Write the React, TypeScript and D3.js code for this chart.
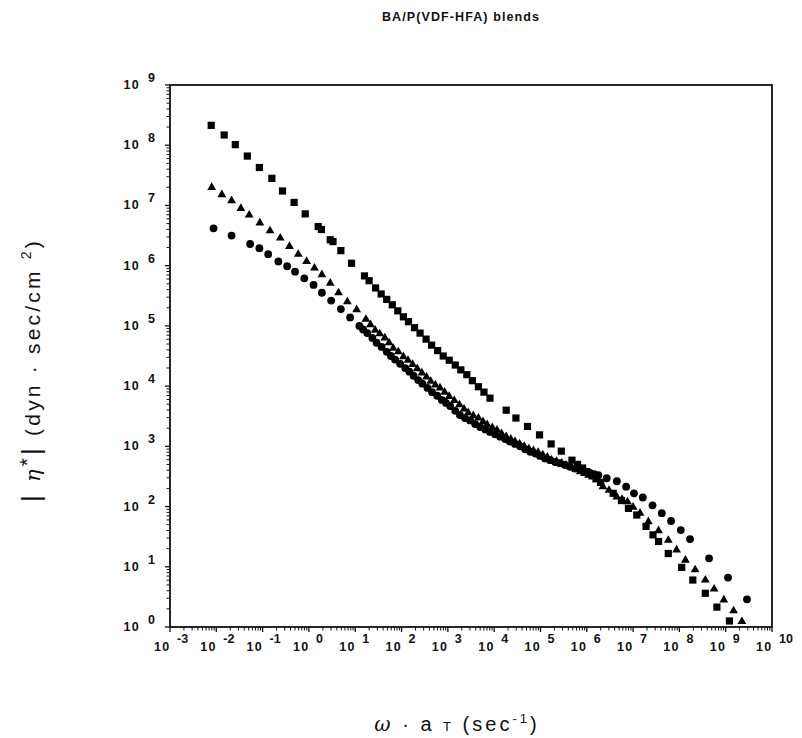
import React from 'react';
import * as d3 from 'd3';

const W = 802;
const H = 738;

const xDecades = d3.range(-3, 11);
const yDecades = d3.range(0, 10);
const xTickLabels = xDecades.map((d) => String(d));
const yTickLabels = yDecades.map((d) => String(d));

const title = 'BA/P(VDF-HFA) blends';

// log10 of omega*aT and log10 of |eta*|
const squareLogW = [-2.11, -1.83, -1.59, -1.33, -1.07, -0.8, -0.57, -0.32, -0.08, 0.2, 0.46, 0.69, 0.92, 1.2, 1.44, 1.68, 1.92, 2.15, 2.4, 2.65, 2.9, 3.16, 3.41, 3.66, 3.91, 4.26, 4.47, 4.72, 4.98, 5.23, 5.45, 5.68, 5.91, 6.11, 6.3, 6.57, 6.75, 6.9, 7.08, 7.28, 7.43, 7.55, 7.76, 8.05, 8.29, 8.56, 8.81, 9.08];
const squareLogEta = [8.33, 8.17, 8.01, 7.82, 7.63, 7.45, 7.24, 7.05, 6.86, 6.65, 6.43, 6.25, 6.04, 5.83, 5.63, 5.44, 5.25, 5.07, 4.88, 4.68, 4.5, 4.35, 4.19, 3.99, 3.8, 3.6, 3.47, 3.33, 3.19, 3.04, 2.92, 2.77, 2.64, 2.52, 2.4, 2.22, 2.1, 1.97, 1.86, 1.67, 1.53, 1.42, 1.22, 0.99, 0.78, 0.56, 0.33, 0.1];
// overlapping markers from other temperatures
const squareExtraLogW = [0.27, 0.52, 1.3, 1.56, 1.8, 2.04, 2.28, 2.53, 2.78, 3.03, 3.28, 3.53, 3.78, 5.8, 6.0, 6.2];
const squareExtraLogEta = [6.6, 6.4, 5.75, 5.53, 5.35, 5.15, 4.97, 4.78, 4.59, 4.43, 4.27, 4.09, 3.9, 2.7, 2.58, 2.46];

const triangleLogW = [-2.1, -1.88, -1.67, -1.47, -1.29, -1.06, -0.84, -0.62, -0.42, -0.23, -0.05, 0.12, 0.28, 0.46, 0.64, 0.83, 1.03, 1.23, 1.43, 1.64, 1.82, 2.04, 2.24, 2.44, 2.63, 2.83, 3.03, 3.25, 3.44, 3.66, 3.85, 4.06, 4.26, 4.45, 4.65, 4.85, 5.05, 5.24, 5.46, 5.65, 5.86, 6.04, 6.22, 6.35, 6.48, 6.65, 6.88, 7.15, 7.33, 7.55, 7.76, 7.94, 8.13, 8.34, 8.56, 8.75, 8.96, 9.17, 9.35];
const triangleLogEta = [7.3, 7.18, 7.08, 6.95, 6.84, 6.71, 6.58, 6.46, 6.32, 6.19, 6.07, 5.96, 5.85, 5.71, 5.55, 5.4, 5.27, 5.11, 4.93, 4.8, 4.63, 4.49, 4.36, 4.22, 4.08, 3.97, 3.83, 3.69, 3.56, 3.47, 3.36, 3.27, 3.16, 3.08, 3.0, 2.93, 2.86, 2.77, 2.72, 2.66, 2.58, 2.52, 2.45, 2.33, 2.27, 2.16, 2.08, 1.89, 1.75, 1.6, 1.44, 1.28, 1.11, 0.95, 0.78, 0.63, 0.45, 0.27, 0.09];
const triangleExtraLogW = [1.33, 1.53, 1.73, 1.93, 2.14, 2.34, 2.54, 2.73, 2.93, 3.14, 3.35, 3.55, 3.76, 3.96, 4.16, 4.36, 4.55, 4.75, 4.95, 5.15, 5.35, 5.55, 5.76, 5.95, 6.13, 6.76, 7.0];
const triangleExtraLogEta = [5.02, 4.87, 4.72, 4.57, 4.43, 4.29, 4.15, 4.02, 3.9, 3.76, 3.62, 3.51, 3.41, 3.31, 3.21, 3.12, 3.04, 2.96, 2.9, 2.82, 2.75, 2.69, 2.62, 2.55, 2.49, 2.12, 1.99];

const circleLogW = [-2.06, -1.67, -1.27, -1.07, -0.88, -0.66, -0.47, -0.3, -0.1, 0.1, 0.28, 0.48, 0.69, 0.89, 1.09, 1.26, 1.46, 1.68, 1.86, 2.08, 2.26, 2.45, 2.66, 2.87, 3.05, 3.26, 3.48, 3.7, 3.91, 4.13, 4.34, 4.56, 4.78, 4.99, 5.21, 5.42, 5.64, 5.86, 6.07, 6.25, 6.43, 6.65, 6.85, 7.02, 7.21, 7.42, 7.62, 7.82, 8.03, 8.23, 8.64, 9.05, 9.46];
const circleLogEta = [6.62, 6.5, 6.36, 6.29, 6.19, 6.07, 5.99, 5.9, 5.79, 5.68, 5.55, 5.42, 5.28, 5.14, 5.0, 4.88, 4.72, 4.57, 4.44, 4.3, 4.17, 4.04, 3.9, 3.77, 3.67, 3.52, 3.43, 3.32, 3.24, 3.16, 3.08, 3.0, 2.91, 2.84, 2.77, 2.72, 2.66, 2.61, 2.56, 2.52, 2.47, 2.42, 2.33, 2.22, 2.15, 2.02, 1.89, 1.76, 1.61, 1.46, 1.14, 0.82, 0.46];
const circleExtraLogW = [1.17, 1.37, 1.57, 1.77, 1.97, 2.17, 2.36, 2.56, 2.77, 2.96, 3.16, 3.37, 3.59, 3.81, 4.02, 4.24, 4.45, 4.67, 4.89, 5.1, 5.32, 5.53, 5.75, 5.97, 6.16];
const circleExtraLogEta = [4.94, 4.8, 4.65, 4.5, 4.37, 4.24, 4.1, 3.97, 3.84, 3.72, 3.59, 3.47, 3.37, 3.28, 3.2, 3.12, 3.04, 2.95, 2.88, 2.8, 2.74, 2.69, 2.63, 2.58, 2.54];

const FONT = "'Liberation Sans', Arial, Helvetica, sans-serif";

export default function App() {
  const x = d3.scaleLog().domain([1e-3, 1e10]).range([170, 772]);
  const y = d3.scaleLog().domain([1, 1e9]).range([627, 85]);

  const xMinor: number[] = [];
  xDecades.slice(0, -1).forEach((d) => {
    for (let k = 2; k <= 9; k++) xMinor.push(k * Math.pow(10, d));
  });
  const yMinor: number[] = [];
  yDecades.slice(0, -1).forEach((d) => {
    for (let k = 2; k <= 9; k++) yMinor.push(k * Math.pow(10, d));
  });

  const pts = (lw: number[], le: number[]) =>
    lw.map((v, i) => [x(Math.pow(10, v)), y(Math.pow(10, le[i]))] as [number, number]);

  const sq = [...pts(squareLogW, squareLogEta), ...pts(squareExtraLogW, squareExtraLogEta)];
  const tr = [...pts(triangleLogW, triangleLogEta), ...pts(triangleExtraLogW, triangleExtraLogEta)];
  const ci = [...pts(circleLogW, circleLogEta), ...pts(circleExtraLogW, circleExtraLogEta)];

  const s = 7.2;
  const ts = 8.8;
  const triPath = (cx: number, cy: number) => {
    const h = (ts * Math.sqrt(3)) / 2;
    return `M${cx},${cy - (2 * h) / 3}L${cx + ts / 2},${cy + h / 3}L${cx - ts / 2},${cy + h / 3}Z`;
  };

  return (
    <svg width={W} height={H} style={{ position: 'absolute', left: 0, top: 0, background: '#fff' }} fontFamily={FONT}>
      <rect x={0} y={0} width={W} height={H} fill="#fff" />
      <text x={461} y={21} textAnchor="middle" fontSize={12.5} fontWeight="bold" letterSpacing={1.1} fill="#111">
        {title}
      </text>

      {/* frame */}
      <rect x={170} y={85} width={602} height={542} fill="none" stroke="#111" strokeWidth={1.8} />

      {/* y ticks */}
      {yMinor.map((v, i) => (
        <line key={'ym' + i} x1={170} x2={166.5} y1={y(v)} y2={y(v)} stroke="#111" strokeWidth={1} />
      ))}
      {yDecades.map((d) => (
        <line key={'yM' + d} x1={170} x2={165} y1={y(Math.pow(10, d))} y2={y(Math.pow(10, d))} stroke="#111" strokeWidth={1.3} />
      ))}
      {yDecades.map((d, i) => (
        <g key={'yl' + d} fontSize={12.5} fontWeight="bold" fill="#111">
          <text x={140} y={y(Math.pow(10, d)) + 4} textAnchor="end" letterSpacing={1.3}>10</text>
          <text x={148} y={y(Math.pow(10, d)) - 3}>{yTickLabels[i]}</text>
        </g>
      ))}

      {/* x ticks */}
      {xMinor.map((v, i) => (
        <line key={'xm' + i} x1={x(v)} x2={x(v)} y1={627} y2={630.5} stroke="#111" strokeWidth={1} />
      ))}
      {xDecades.map((d) => (
        <line key={'xM' + d} x1={x(Math.pow(10, d))} x2={x(Math.pow(10, d))} y1={627} y2={632} stroke="#111" strokeWidth={1.3} />
      ))}
      {xDecades.map((d, i) => (
        <g key={'xl' + d} fontSize={12.5} fontWeight="bold" fill="#111">
          <text x={x(Math.pow(10, d)) + 0.5} y={651} textAnchor="end" letterSpacing={1.3}>10</text>
          <text x={x(Math.pow(10, d)) + 7} y={643}>{d < 0 ? '-' + String(-d) : xTickLabels[i]}</text>
        </g>
      ))}

      {/* data */}
      <g fill="#000">
        {sq.map(([cx, cy], i) => (
          <rect key={'s' + i} x={cx - s / 2} y={cy - s / 2} width={s} height={s} />
        ))}
        {tr.map(([cx, cy], i) => (
          <path key={'t' + i} d={triPath(cx, cy)} />
        ))}
        {ci.map(([cx, cy], i) => (
          <circle key={'c' + i} cx={cx} cy={cy} r={3.9} />
        ))}
      </g>

      {/* y label */}
      <text transform="translate(40,370) rotate(-90)" textAnchor="middle" fontSize={21} fill="#111" letterSpacing={3.2}>
        <tspan fontSize={26}>|</tspan>
        <tspan fontStyle="italic" fontFamily="'DejaVu Serif', serif"> η</tspan>
        <tspan dy={-6}>*</tspan>
        <tspan dy={6} fontSize={26}>|</tspan>
        <tspan>  (dyn · sec/cm </tspan>
        <tspan dy={-9} fontSize={14}>2</tspan>
        <tspan dy={9}>)</tspan>
      </text>

      {/* x label */}
      <text x={457} y={731} textAnchor="middle" fontSize={20} fill="#111" letterSpacing={3}>
        <tspan fontStyle="italic" fontFamily="'DejaVu Serif', serif">ω</tspan>
        <tspan> · a </tspan>
        <tspan fontSize={13}>T</tspan>
        <tspan> (sec</tspan>
        <tspan dy={-8} fontSize={13}>-1</tspan>
        <tspan dy={8}>)</tspan>
      </text>
    </svg>
  );
}
